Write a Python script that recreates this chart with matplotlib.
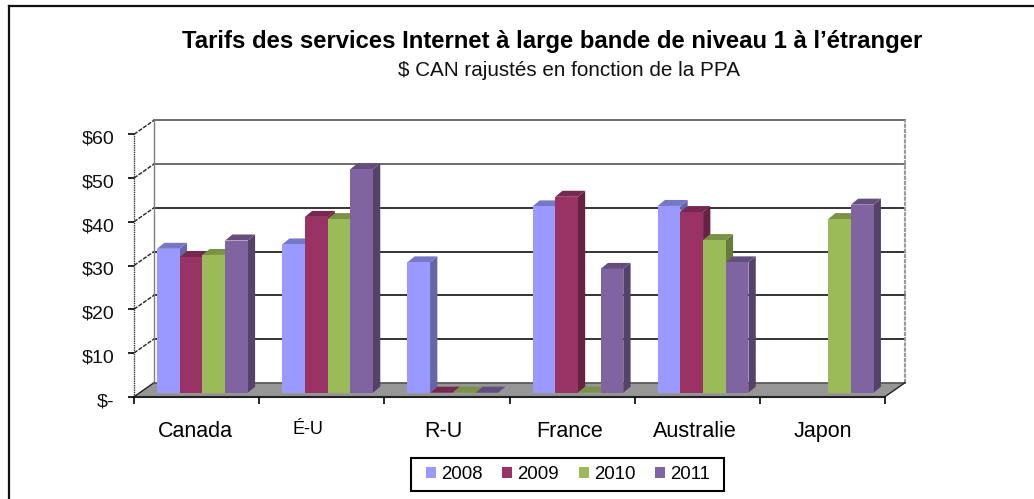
import numpy as np
import matplotlib
matplotlib.use('Agg')
import matplotlib.pyplot as plt
from matplotlib.patches import Polygon, Patch, Rectangle
from matplotlib.colors import to_rgb
from matplotlib.transforms import ScaledTranslation

plt.rcParams['font.family'] = ['Liberation Sans', 'DejaVu Sans']

# Values, nan = no bar at all
countries = ['Canada', 'É-U', 'R-U', 'France', 'Australie', 'Japon']
years = ['2008', '2009', '2010', '2011']
tarifs_2008 = [32.9, 33.9, 29.8, 42.6, 42.7, np.nan]
tarifs_2009 = [31.0, 40.2, 0, 44.8, 41.3, np.nan]
tarifs_2010 = [31.5, 39.7, 0, 0, 34.9, 39.7]
tarifs_2011 = [34.8, 51.1, 0, 28.3, 29.8, 43.0]
y_ticks = [0, 10, 20, 30, 40, 50, 60]
y_labels = ['$-', '$10', '$20', '$30', '$40', '$50', '$60']
colors = ['#9999FF', '#993366', '#9BBB59', '#8064A2']

W, H = 1034, 499
fig = plt.figure(figsize=(W / 100, H / 100), dpi=100)

# axes = front plane of the fake 3D box
x0, x1, y_base, y_top = 134, 885, 396.7, 134.3
ax = fig.add_axes([x0 / W, 1 - y_base / H, (x1 - x0) / W, (y_base - y_top) / H])
ax.set_xlim(0, len(countries))
ax.set_ylim(0, 60)
for s in ax.spines.values():
    s.set_visible(False)
ax.patch.set_visible(False)

px = len(countries) / (x1 - x0)   # one pixel in x data units
py = 60 / (y_base - y_top)        # one pixel in y data units
wall_dx, wall_dy = 20 * px, 14 * py
bar_dx, bar_dy = 7.3 * px, 6 * py
bar_w = 22.7 * px
bar_start = 23 * px
bar_floor = 4 * py


def shade(c, f):
    return tuple(v * f for v in to_rgb(c))


# floor
n = len(countries)
ax.add_patch(Polygon([(0, 0), (n, 0), (n + wall_dx, wall_dy), (wall_dx, wall_dy)],
                     facecolor='#969696', edgecolor='none', clip_on=False, zorder=1))
ax.plot([wall_dx, n + wall_dx], [wall_dy, wall_dy], color='#555555', lw=1.2, clip_on=False, zorder=1.5)

# back wall grid and side wall diagonals
for v in y_ticks[1:]:
    c = '#555555' if v >= 50 else '#111111'
    ax.plot([wall_dx, n + wall_dx], [v + wall_dy, v + wall_dy], color=c, lw=1.2,
            clip_on=False, zorder=1)
    ax.plot([0, wall_dx], [v, v + wall_dy], color='#222222', lw=1, ls=(0, (3, 1)),
            clip_on=False, zorder=1)
ax.plot([0, wall_dx], [0, wall_dy], color='#222222', lw=1, clip_on=False, zorder=1)
ax.plot([wall_dx, wall_dx], [wall_dy, 60 + wall_dy], color='#808080', lw=1, clip_on=False, zorder=1)
ax.plot([n + wall_dx, n + wall_dx], [wall_dy, 60 + wall_dy], color='#999999', lw=1.5,
        ls=(0, (2, 0.5)), clip_on=False, zorder=1)
ax.plot([n, n + wall_dx], [0, wall_dy], color='#222222', lw=1, clip_on=False, zorder=1.5)
ax.plot([0, 0], [0, 60], color='#333333', lw=1, ls=(0, (1, 0.6)), clip_on=False, zorder=1.5)
ax.plot([0, n], [0, 0], color='#222222', lw=1.5, clip_on=False, zorder=1.5)

# bars, drawn left to right so that each front hides the side before it
series = [tarifs_2008, tarifs_2009, tarifs_2010, tarifs_2011]
z = 2.0
for i in range(n):
    for j, vals in enumerate(series):
        v = vals[i]
        if np.isnan(v):
            continue
        left = i + bar_start + j * bar_w
        right = left + bar_w
        bottom = bar_floor
        top = bar_floor + v
        col = colors[j]
        ax.add_patch(Polygon([(right, bottom), (right + bar_dx, bottom + bar_dy),
                              (right + bar_dx, top + bar_dy), (right, top)],
                             facecolor=shade(col, 0.66), edgecolor='none', zorder=z, clip_on=False))
        ax.add_patch(Polygon([(left, top), (right, top), (right + bar_dx, top + bar_dy),
                              (left + bar_dx, top + bar_dy)],
                             facecolor=shade(col, 0.78), edgecolor='none', zorder=z, clip_on=False))
        if v > 0:
            ax.bar(left, v, width=bar_w, bottom=bottom, align='edge', color=col,
                   edgecolor='none', zorder=z + 0.1, clip_on=False)
        z += 0.2

# axis ticks and labels, the y labels sit a little below their ticks
ax.set_yticks(y_ticks)
ax.set_yticklabels(y_labels)
ax.tick_params(axis='y', length=4, width=1.2, pad=11.5, labelsize=14)
shift = ScaledTranslation(2 / 100, -3 / 100, fig.dpi_scale_trans)
for lab in ax.get_yticklabels():
    lab.set_color('#111111')
    lab.set_transform(lab.get_transform() + shift)
ax.set_xticks(range(n + 1))
ax.set_xticklabels([])
ax.tick_params(axis='x', which='major', length=5, width=1.2)
ax.set_xticks([0.487, 1.39, 2.47, 3.48, 4.48, 5.5], minor=True)
ax.set_xticklabels(countries, minor=True)
ax.tick_params(axis='x', which='minor', length=0, pad=17.5, labelsize=15.5)
ax.get_xticklabels(minor=True)[1].set_fontsize(13)

# titles
fig.text(552 / W, 1 - 48 / H, 'Tarifs des services Internet à large bande de niveau 1 à l’étranger',
         ha='center', va='baseline', fontsize=17.2, fontweight='bold', color='black')
fig.text(569 / W, 1 - 76 / H, '$ CAN rajustés en fonction de la PPA', ha='center', va='baseline',
         fontsize=14.85, color='#111111', parse_math=False)

# outer frame, open on the right and at the bottom
fig.add_artist(plt.Line2D([8.5 / W, 8.5 / W], [0, 1 - 6 / H], color='#111111', lw=1.6))
fig.add_artist(plt.Line2D([8.5 / W, 1], [1 - 6 / H, 1 - 6 / H], color='#111111', lw=1.6))

# legend, the box is drawn apart because it is wider than the padding would give
fig.add_artist(Rectangle((411 / W, 1 - 490.5 / H), 313 / W, 33 / H, transform=fig.transFigure,
                         facecolor='white', edgecolor='black', lw=1.5))
handles = [Patch(facecolor=c, edgecolor='none', label=y) for c, y in zip(colors, years)]
leg = fig.legend(handles=handles, ncols=4, loc='center', bbox_to_anchor=(568 / W, 1 - 474.5 / H),
                 frameon=False, fontsize=13.4, handlelength=0.54, handleheight=0.54,
                 handletextpad=0.27, columnspacing=1.05, borderpad=0, borderaxespad=0)

fig.savefig('out.png', dpi=100)
